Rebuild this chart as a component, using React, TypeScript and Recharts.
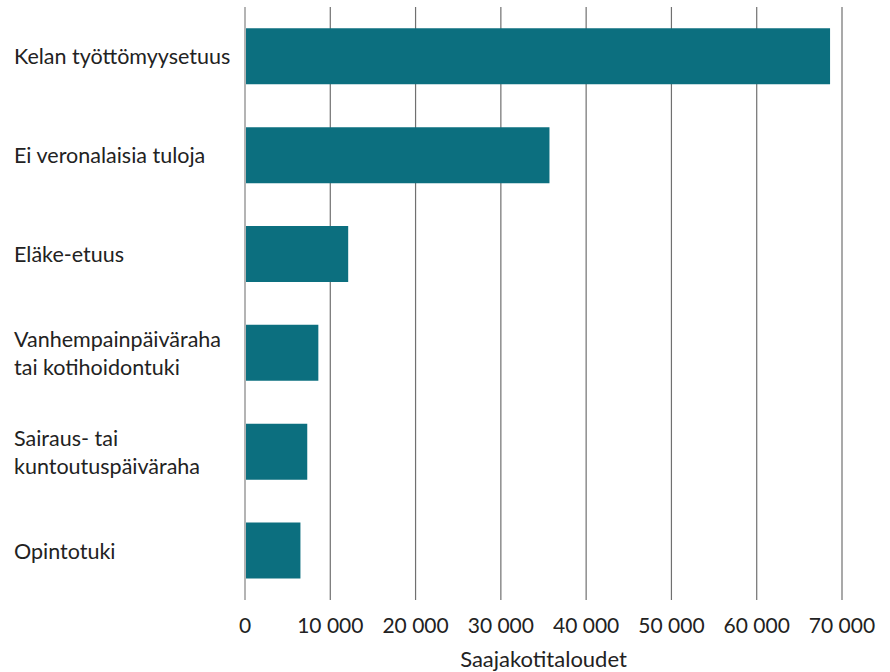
import { BarChart, Bar, XAxis, YAxis, CartesianGrid, ReferenceLine } from 'recharts';

const categories = [
  'Kelan työttömyysetuus',
  'Ei veronalaisia tuloja',
  'Eläke-etuus',
  'Vanhempainpäiväraha\ntai kotihoidontuki',
  'Sairaus- tai\nkuntoutuspäiväraha',
  'Opintotuki',
];
const households = [68600, 35700, 12100, 8600, 7300, 6500];
const xTicks = [0, 10000, 20000, 30000, 40000, 50000, 60000, 70000];

const data = categories.map((name, i) => ({ name, value: households[i] }));

const FONT = 'Lato, sans-serif';
const TEXT = '#222';

const fmt = (v: number) => String(v).replace(/\B(?=(\d{3})+(?!\d))/g, ' ');

function CategoryTick({ y, payload }: any) {
  const lines = String(payload.value).split('\n');
  const lh = 28;
  const start = y - ((lines.length - 1) * lh) / 2;
  return (
    <text x={14} y={start} textAnchor="start" dominantBaseline="central" fontFamily={FONT} fontSize={21.5} fill={TEXT}>
      {lines.map((l, i) => (
        <tspan key={i} x={14} y={start + i * lh}>
          {l}
        </tspan>
      ))}
    </text>
  );
}

export default function App() {
  return (
    <div style={{ position: 'absolute', left: 0, top: 0, background: '#fff' }}>
      <BarChart
        width={890}
        height={672}
        data={data}
        layout="vertical"
        margin={{ top: 7, right: 48, bottom: 42, left: 0 }}
        barCategoryGap="21.6%"
      >
        <CartesianGrid horizontal={false} stroke="#707070" strokeWidth={1.2} />
        <XAxis
          type="number"
          domain={[0, 70000]}
          ticks={xTicks}
          tickFormatter={fmt}
          axisLine={false}
          tickLine={false}
          tick={{ fontFamily: FONT, fontSize: 21, fill: TEXT }}
          tickMargin={12}
          label={{ value: 'Saajakotitaloudet', position: 'insideBottom', offset: -37, fontFamily: FONT, fontSize: 22, fill: TEXT }}
        />
        <YAxis
          type="category"
          dataKey="name"
          width={245}
          axisLine={false}
          tickLine={false}
          tick={<CategoryTick />}
          interval={0}
        />
        <Bar dataKey="value" fill="#0c6f7f" isAnimationActive={false} />
        <ReferenceLine x={0} stroke="#b4b4b4" strokeWidth={2} />
      </BarChart>
    </div>
  );
}
